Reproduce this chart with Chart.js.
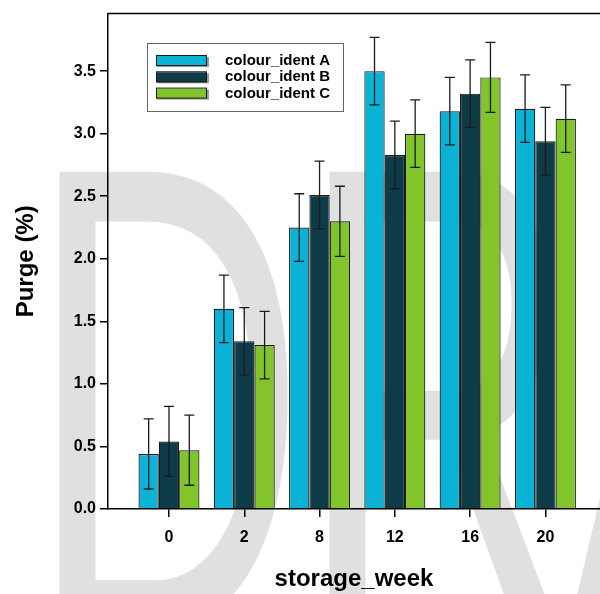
<!DOCTYPE html>
<html>
<head>
<meta charset="utf-8">
<script src="https://cdn.jsdelivr.net/npm/chart.js@4/dist/chart.umd.min.js"></script>
<style>
  html, body { margin: 0; padding: 0; background: #fff; overflow: hidden; }
  #wrap { width: 600px; height: 594px; position: relative; }
</style>
</head>
<body>
<div id="wrap"><canvas id="chart"></canvas></div>
<script>
// ─── Data ──────────────────────────────────────────────────────────────────────
const weeks = ['0', '2', '8', '12', '16', '20'];
const seriesNames = ['colour_ident A', 'colour_ident B', 'colour_ident C'];
const purgeA = [0.44, 1.60, 2.25, 3.50, 3.18, 3.20];
const purgeB = [0.54, 1.34, 2.51, 2.83, 3.32, 2.94];
const purgeC = [0.47, 1.31, 2.30, 3.00, 3.45, 3.12];
const errA = [0.28, 0.27, 0.27, 0.27, 0.27, 0.27];
const errB = [0.28, 0.27, 0.27, 0.27, 0.27, 0.27];
const errC = [0.28, 0.27, 0.28, 0.27, 0.28, 0.27];
const yTicks = [0, 0.5, 1.0, 1.5, 2.0, 2.5, 3.0, 3.5];

const colours = ['#0ab2d6', '#0d3b48', '#82c52b'];
const font = '"Liberation Sans", Arial, sans-serif';

const toPoints = vals => vals.map((v, i) => ({ x: i, y: v }));

// ─── Plugins ───────────────────────────────────────────────────────────────────
// big grey "DRAFT" behind everything
const watermark = {
  id: 'watermark',
  beforeDraw(chart) {
    const ctx = chart.ctx;
    ctx.save();
    ctx.fillStyle = '#e0e0e0';
    ctx.font = `385px ${font}`;
    ctx.letterSpacing = '-8px';
    ctx.textBaseline = 'alphabetic';
    ctx.translate(28, 630);
    ctx.scale(1, 1.73);
    ctx.fillText('DRAFT', 0, 0);
    ctx.restore();
  }
};

const errorBars = {
  id: 'errorBars',
  afterDatasetsDraw(chart) {
    const ctx = chart.ctx;
    const y = chart.scales.y;
    ctx.save();
    ctx.strokeStyle = '#1c1c1c';
    ctx.lineWidth = 1.3;
    chart.data.datasets.forEach((ds, di) => {
      const meta = chart.getDatasetMeta(di);
      meta.data.forEach((bar, i) => {
        const v = ds.data[i].y, e = ds.err[i];
        const top = y.getPixelForValue(v + e), bot = y.getPixelForValue(v - e);
        ctx.beginPath();
        ctx.moveTo(bar.x, top); ctx.lineTo(bar.x, bot);
        ctx.moveTo(bar.x - 5, top); ctx.lineTo(bar.x + 5, top);
        ctx.moveTo(bar.x - 5, bot); ctx.lineTo(bar.x + 5, bot);
        ctx.stroke();
      });
    });
    ctx.restore();
  }
};

const frameAndLegend = {
  id: 'frameAndLegend',
  afterDraw(chart) {
    const ctx = chart.ctx;
    const a = chart.chartArea;
    ctx.save();
    // top frame line
    ctx.strokeStyle = '#000';
    ctx.lineWidth = 1.5;
    ctx.beginPath();
    ctx.moveTo(a.left, a.top); ctx.lineTo(a.right, a.top);
    ctx.stroke();

    // legend box
    ctx.fillStyle = '#fff';
    ctx.fillRect(147, 43, 196, 68);
    ctx.strokeStyle = '#666';
    ctx.lineWidth = 1;
    ctx.strokeRect(147.5, 43.5, 196, 68);
    ctx.font = `bold 15px ${font}`;
    ctx.textBaseline = 'middle';
    seriesNames.forEach((name, i) => {
      const cy = 61 + i * 16.3;
      ctx.fillStyle = '#9a9a9a';
      ctx.fillRect(157, cy - 4, 52, 10);
      ctx.fillStyle = colours[i];
      ctx.fillRect(156, cy - 5, 51, 10);
      ctx.strokeStyle = '#1a1a1a';
      ctx.strokeRect(156.5, cy - 5.5, 50, 10);
      ctx.fillStyle = '#000';
      ctx.fillText(name, 225, cy);
    });
    ctx.restore();
  }
};

// ─── Chart ─────────────────────────────────────────────────────────────────────
const ds = (i, vals, err) => ({
  label: seriesNames[i],
  data: toPoints(vals),
  err,
  backgroundColor: colours[i],
  borderColor: '#1a1a1a',
  borderWidth: 1.2,
  borderSkipped: 'bottom',
  categoryPercentage: 0.81,
  barPercentage: 1.0
});

new Chart(document.getElementById('chart'), {
  type: 'bar',
  data: {
    datasets: [ds(0, purgeA, errA), ds(1, purgeB, errB), ds(2, purgeC, errC)]
  },
  options: {
    responsive: true,
    maintainAspectRatio: false,
    animation: false,
    layout: { padding: { top: 11, right: 0, left: 0, bottom: 0 } },
    plugins: {
      legend: { display: false },
      tooltip: { enabled: false }
    },
    scales: {
      x: {
        type: 'linear',
        offset: false,
        min: -0.81,
        max: 5.725,
        afterFit: s => { s.height = 85; },
        afterBuildTicks: s => { s.ticks = weeks.map((_, i) => ({ value: i })); },
        ticks: {
          autoSkip: false,
          includeBounds: false,
          stepSize: 1,
          padding: 11,
          maxRotation: 0,
          color: '#000',
          font: { family: font, size: 16, weight: 'bold' },
          callback: v => weeks[v] ?? ''
        },
        grid: { offset: false, drawOnChartArea: false, tickLength: 8, color: '#000', lineWidth: 1.5 },
        border: { color: '#000', width: 1.5 },
        title: {
          display: true,
          text: 'storage_week',
          color: '#000',
          padding: { top: 0, bottom: 0 },
          font: { family: font, size: 24, weight: 'bold' }
        }
      },
      y: {
        min: 0,
        max: 3.96,
        afterFit: s => { s.width = 108; },
        afterBuildTicks: s => { s.ticks = yTicks.map(v => ({ value: v })); },
        ticks: {
          padding: 4,
          color: '#000',
          font: { family: font, size: 16, weight: 'bold' },
          callback: v => Number(v).toFixed(1)
        },
        grid: { drawOnChartArea: false, tickLength: 8, color: '#000', lineWidth: 1.5 },
        border: { color: '#000', width: 1.5 },
        title: {
          display: true,
          text: 'Purge (%)',
          color: '#000',
          padding: { top: 12, bottom: 0 },
          font: { family: font, size: 24, weight: 'bold' }
        }
      }
    }
  },
  plugins: [watermark, errorBars, frameAndLegend]
});
</script>
</body>
</html>
